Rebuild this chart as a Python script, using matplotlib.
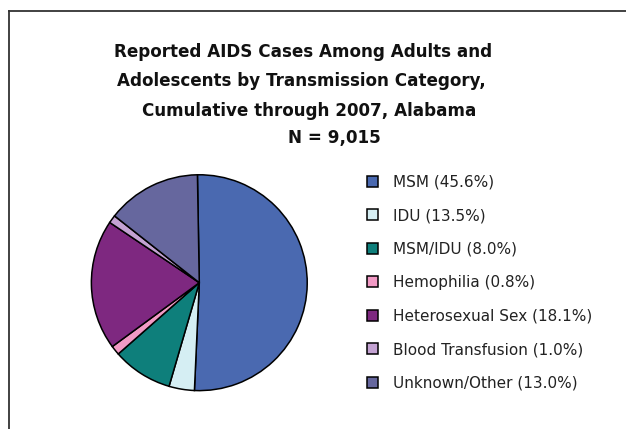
import matplotlib
matplotlib.use("Agg")
import matplotlib.pyplot as plt
from matplotlib.patches import Patch
from matplotlib.lines import Line2D

# ---- data ----
categories = ["MSM", "IDU", "MSM/IDU", "Hemophilia", "Heterosexual Sex",
              "Blood Transfusion", "Unknown/Other"]
label_pcts = [45.6, 13.5, 8.0, 0.8, 18.1, 1.0, 13.0]
# slice shares as drawn in the picture (estimated from angles)
slice_values = [51.0, 3.8, 9.0, 1.4, 19.5, 1.2, 14.1]
colors = ["#4A69B0", "#D5EEF3", "#0E7F7B", "#F29AC5", "#7E2880", "#C3A2D2", "#66679E"]
title_lines = ["Reported AIDS Cases Among Adults and",
               "Adolescents by Transmission Category,",
               "Cumulative through 2007, Alabama",
               "N = 9,015"]

W, H = 626, 429
fig = plt.figure(figsize=(W / 100, H / 100), dpi=100)
fig.patch.set_facecolor("white")

# frame lines (top and left)
fig.add_artist(Line2D([8.5 / W, 1.0], [1 - 10.5 / H, 1 - 10.5 / H], transform=fig.transFigure,
                      color="#333333", lw=1.3))
fig.add_artist(Line2D([8.5 / W, 8.5 / W], [0.0, 1 - 10.5 / H], transform=fig.transFigure,
                      color="#333333", lw=1.3))

# title lines
title_x = [114, 117, 142, 288]
title_y = [52, 81.5, 110.5, 137.5]
for t, x, y in zip(title_lines, title_x, title_y):
    fig.text(x / W, 1 - y / H, t, ha="left", va="center", fontsize=12.1,
             fontweight="bold", color="#111111", family="DejaVu Sans")

# pie
cx, cy, r = 199.3, 282.7, 109.0
ax = fig.add_axes([(cx - r) / W, (H - cy - r) / H, 2 * r / W, 2 * r / H])
ax.pie(slice_values, colors=colors, startangle=91, counterclock=False,
       wedgeprops=dict(edgecolor="black", linewidth=1.1), radius=1.0)
ax.set_xlim(-1.01, 1.01)
ax.set_ylim(-1.01, 1.01)
ax.set_aspect("equal")
ax.axis("off")

# legend
handles = [Patch(facecolor=c, edgecolor="black", linewidth=1.1) for c in colors]
labels = [f"{c} ({p:.1f}%)" for c, p in zip(categories, label_pcts)]
leg = fig.legend(handles, labels, loc="upper left",
                 bbox_to_anchor=(362 / W, 1 - 170 / H),
                 frameon=False, fontsize=11, labelspacing=1.21,
                 handlelength=0.75, handleheight=0.75, handletextpad=1.0,
                 borderpad=0.3, borderaxespad=0.0)
for t in leg.get_texts():
    t.set_color("#222222")

fig.savefig("out.png", dpi=100, facecolor="white")
